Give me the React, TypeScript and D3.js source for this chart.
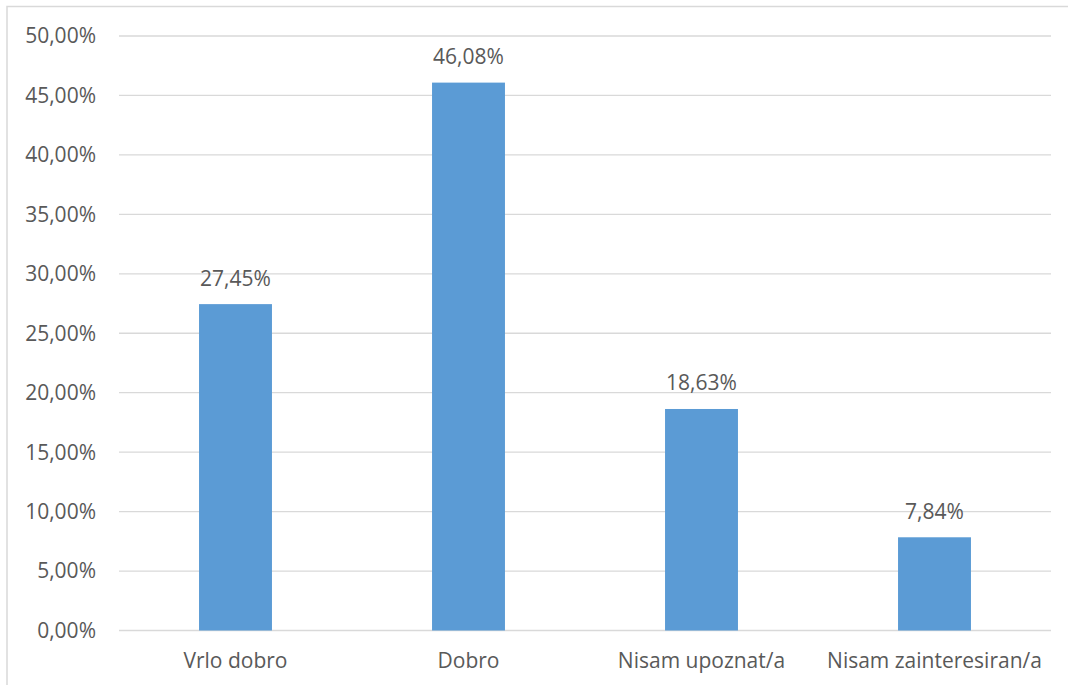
import React from "react";
import * as d3 from "d3";

const categories = ["Vrlo dobro", "Dobro", "Nisam upoznat/a", "Nisam zainteresiran/a"];
const values = [27.45, 46.08, 18.63, 7.84];
const yTicks = [0, 5, 10, 15, 20, 25, 30, 35, 40, 45, 50];

const W = 1068;
const H = 685;
const margin = { left: 119, right: 17, top: 36, bottom: 54.5 };
const FONT = "'Open Sans', sans-serif";
const TEXT = "#595959";
const FS = 21;

const fmt = (v: number) => v.toFixed(2).replace(".", ",") + "%";

export default function App() {
  const x = d3
    .scaleBand<string>()
    .domain(categories)
    .range([margin.left, W - margin.right])
    .paddingInner(0.687)
    .paddingOuter(0.3435);
  const y = d3.scaleLinear().domain([0, 50]).range([H - margin.bottom, margin.top]);

  return (
    <svg
      width={W}
      height={H}
      style={{ position: "absolute", left: 0, top: 0, display: "block", background: "#fff" }}
    >
      <rect x={7} y={6.5} width={W + 20} height={H + 20} fill="#fff" stroke="#D9D9D9" strokeWidth={1.5} />
      {yTicks.map((t) => (
        <g key={t}>
          <line x1={margin.left} x2={W - margin.right} y1={y(t)} y2={y(t)} stroke="#D9D9D9" strokeWidth={1.3} />
          <text x={96} y={y(t)} dy="0.35em" textAnchor="end" fontFamily={FONT} fontSize={FS} fill={TEXT}>
            {fmt(t)}
          </text>
        </g>
      ))}
      {categories.map((c, i) => (
        <g key={c}>
          <rect x={x(c)} y={y(values[i])} width={x.bandwidth()} height={y(0) - y(values[i])} fill="#5B9BD5" />
          <text
            x={(x(c) as number) + x.bandwidth() / 2}
            y={y(values[i]) - 18.6}
            textAnchor="middle"
            fontFamily={FONT}
            fontSize={FS}
            fill={TEXT}
          >
            {fmt(values[i])}
          </text>
          <text
            x={(x(c) as number) + x.bandwidth() / 2}
            y={668}
            textAnchor="middle"
            fontFamily={FONT}
            fontSize={FS}
            fill={TEXT}
          >
            {c}
          </text>
        </g>
      ))}
    </svg>
  );
}
